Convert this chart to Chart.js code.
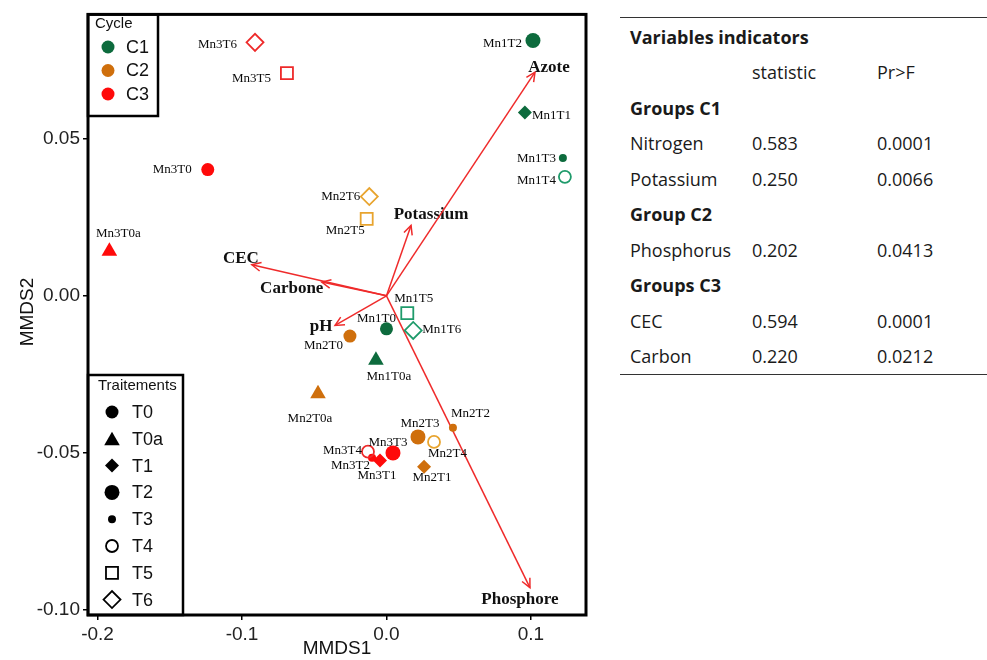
<!DOCTYPE html>
<html><head><meta charset="utf-8">
<script src="https://cdn.jsdelivr.net/npm/chart.js@4.4.1/dist/chart.umd.min.js"></script>
<style>
html,body{margin:0;padding:0;background:#fff;}
body{width:987px;height:660px;overflow:hidden;position:relative;}
#wrap{position:absolute;left:0;top:0;width:600px;height:660px;}
#tbl{position:absolute;left:620px;top:17px;width:367px;border-collapse:collapse;
 font-family:"Open Sans",sans-serif;font-size:18px;color:#1a1a1a;
 border-top:1.5px solid #333;border-bottom:1.5px solid #333;}
#tbl td{height:35.5px;padding:0;white-space:nowrap;vertical-align:middle;}
#tbl tr:first-child td{padding-top:1px;}
#tbl td.c0{padding-left:10px;width:122px;}
#tbl td.c1{width:125px;}
#tbl td.b{font-weight:bold;}
</style>
</head><body>
<div id="wrap"><canvas id="c" width="600" height="660"></canvas></div>
<table id="tbl"></table>
<script>
// ---------------- DATA ----------------
const cycleNames = ["C1", "C2", "C3"];
const treatmentNames = ["T0", "T0a", "T1", "T2", "T3", "T4", "T5", "T6"];
const xTickValues = [-0.2, -0.1, 0.0, 0.1];
const xTickLabels = ["-0.2", "-0.1", "0.0", "0.1"];
const yTickValues = [-0.10, -0.05, 0.00, 0.05];
const yTickLabels = ["-0.10", "-0.05", "0.00", "0.05"];

const pointNames = ["Mn1T0","Mn1T0a","Mn1T1","Mn1T2","Mn1T3","Mn1T4","Mn1T5","Mn1T6",
                    "Mn2T0","Mn2T0a","Mn2T1","Mn2T2","Mn2T3","Mn2T4","Mn2T5","Mn2T6",
                    "Mn3T0","Mn3T0a","Mn3T1","Mn3T2","Mn3T3","Mn3T4","Mn3T5","Mn3T6"];
const pointCycle = ["C1","C1","C1","C1","C1","C1","C1","C1",
                    "C2","C2","C2","C2","C2","C2","C2","C2",
                    "C3","C3","C3","C3","C3","C3","C3","C3"];
// marker drawn for each point (as seen in the figure)
const pointMarker = ["T0","T0a","T1","T2","T3","T4","T5","T6",
                     "T0","T0a","T1","T3","T2","T4","T5","T6",
                     "T0","T0a","T1","T3","T2","T4","T5","T6"];
const mmds1 = [0.0000,-0.0073, 0.0958, 0.1014, 0.1221, 0.1235, 0.0144, 0.0185,
              -0.0253,-0.0474, 0.0260, 0.0460, 0.0218, 0.0329,-0.0137,-0.0119,
              -0.1237,-0.1918,-0.0045,-0.0100, 0.0045,-0.0128,-0.0689,-0.0910];
const mmds2 = [-0.0105,-0.0205, 0.0584, 0.0813, 0.0439, 0.0379,-0.0055,-0.0110,
               -0.0128,-0.0312,-0.0544,-0.0420,-0.0449,-0.0465, 0.0245, 0.0316,
                0.0402, 0.0142,-0.0524,-0.0515,-0.0500,-0.0496, 0.0709, 0.0807];

const vectorNames = ["Azote","Potassium","CEC","Carbone","pH","Phosphore"];
const vectorX = [0.1028, 0.0170,-0.0932,-0.0448,-0.0356, 0.0993];
const vectorY = [0.0712, 0.0224, 0.0099, 0.0044,-0.0094,-0.0929];

const tableTitle = "Variables indicators";
const tableHeader = ["", "statistic", "Pr>F"];
const tableGroups = ["Groups C1", "Group C2", "Groups C3"];
const tableVariables = [["Nitrogen","Potassium"],["Phosphorus"],["CEC","Carbon"]];
const tableStatistic = [["0.583","0.250"],["0.202"],["0.594","0.220"]];
const tablePvalue = [["0.0001","0.0066"],["0.0413"],["0.0001","0.0212"]];

// ---------------- STYLES ----------------
const FILL = {C1:"#0d6b3d", C2:"#cf6f0c", C3:"#ff0a0a"};
const OPEN = {C1:"#1f9b6b", C2:"#e8a42e", C3:"#ee2a2a"};
const MARK = {
  T0:{style:"circle",r:6.5,fill:true},
  T0a:{style:"triangle",r:9,fill:true},
  T1:{style:"rectRot",r:7,fill:true},
  T2:{style:"circle",r:7.5,fill:true},
  T3:{style:"circle",r:4,fill:true},
  T4:{style:"circle",r:6,fill:false},
  T5:{style:"rect",r:8.5,fill:false},
  T6:{style:"rectRot",r:8.5,fill:false}
};
// label placement relative to marker: [align, dx, dy]
const LABEL_POS = {
  Mn1T0:["center",-10,-10], Mn1T0a:["center",13,16], Mn1T1:["left",7,3], Mn1T2:["right",-11,3],
  Mn1T3:["right",-7,1], Mn1T4:["right",-9,4], Mn1T5:["left",-13,-15], Mn1T6:["left",9,-1],
  Mn2T0:["right",-7,10], Mn2T0a:["center",-8,25], Mn2T1:["center",8,11], Mn2T2:["left",-2,-14],
  Mn2T3:["center",2,-13], Mn2T4:["left",-6,12], Mn2T5:["right",-2,12], Mn2T6:["right",-9,0],
  Mn3T0:["right",-16,0], Mn3T0a:["center",9,-18], Mn3T1:["center",-3,15], Mn3T2:["right",-2,8],
  Mn3T3:["center",-5,-10], Mn3T4:["right",-6,-1], Mn3T5:["right",-16,5], Mn3T6:["right",-18,2]
};
const VEC_LABEL = {Azote:[14,-5], Potassium:[20,-11], CEC:[-11,-6], Carbone:[-30,7], pH:[-14,1], Phosphore:[-10,12]};
const ARROW = "#ef2b2b";

// ---------------- TABLE ----------------
(function(){
  const t = document.getElementById("tbl");
  let h = `<tr><td class="c0 b" colspan="3">${tableTitle}</td></tr>`;
  h += `<tr><td class="c0">${tableHeader[0]}</td><td class="c1">${tableHeader[1]}</td><td>${tableHeader[2].replace(">","&gt;")}</td></tr>`;
  tableGroups.forEach((g,i)=>{
    h += `<tr><td class="c0 b" colspan="3">${g}</td></tr>`;
    tableVariables[i].forEach((v,j)=>{
      h += `<tr><td class="c0">${v}</td><td class="c1">${tableStatistic[i][j]}</td><td>${tablePvalue[i][j]}</td></tr>`;
    });
  });
  t.innerHTML = h;
})();

// ---------------- CHART ----------------
const datasets = [];
vectorNames.forEach((n,i)=>{
  datasets.push({label:n, isVector:true, data:[{x:0,y:0},{x:vectorX[i],y:vectorY[i]}],
    showLine:true, borderColor:ARROW, borderWidth:1.5, pointRadius:0, pointHoverRadius:0, order:2});
});
cycleNames.forEach(c=>{
  const data = [];
  pointNames.forEach((n,i)=>{ if(pointCycle[i]===c) data.push({x:mmds1[i], y:mmds2[i], name:n, mk:pointMarker[i]}); });
  datasets.push({label:c, data, order:1,
    pointStyle: ctx=>MARK[ctx.raw.mk].style,
    pointRadius: ctx=>MARK[ctx.raw.mk].r,
    pointHoverRadius: ctx=>MARK[ctx.raw.mk].r,
    backgroundColor: ctx=>MARK[ctx.raw.mk].fill ? FILL[c] : "rgba(255,255,255,0)",
    borderColor: ctx=>MARK[ctx.raw.mk].fill ? FILL[c] : OPEN[c],
    borderWidth: ctx=>MARK[ctx.raw.mk].fill ? 0 : 1.8
  });
});

function drawMarker(ctx, mk, x, y, color){
  const m = MARK[mk];
  ctx.save();
  ctx.fillStyle = m.fill ? color : "rgba(0,0,0,0)";
  ctx.strokeStyle = color; ctx.lineWidth = m.fill ? 0.001 : 1.8;
  Chart.helpers.drawPoint(ctx, {pointStyle:m.style, radius:m.r, rotation:0, borderWidth:m.fill?0:1.8}, x, y);
  ctx.restore();
}

const overlay = {
  id:"overlay",
  afterDatasetDraw(chart, args){
    const ds = chart.data.datasets[args.index];
    if(!ds.isVector) return;
    const meta = args.meta;
    const p0 = meta.data[0], p1 = meta.data[1];
    const ctx = chart.ctx;
    const ang = Math.atan2(p1.y-p0.y, p1.x-p0.x);
    const L = 10, a = 0.45;
    ctx.save();
    ctx.strokeStyle = ARROW; ctx.lineWidth = 1.5;
    ctx.beginPath();
    ctx.moveTo(p1.x - L*Math.cos(ang-a), p1.y - L*Math.sin(ang-a));
    ctx.lineTo(p1.x, p1.y);
    ctx.lineTo(p1.x - L*Math.cos(ang+a), p1.y - L*Math.sin(ang+a));
    ctx.stroke();
    ctx.fillStyle = "#111";
    ctx.font = "bold 17px 'Liberation Serif', serif";
    ctx.textAlign = "center"; ctx.textBaseline = "middle";
    const o = VEC_LABEL[ds.label];
    ctx.fillText(ds.label, p1.x + o[0], p1.y + o[1]);
    ctx.restore();
  },
  afterDatasetsDraw(chart){
    const ctx = chart.ctx;
    ctx.save();
    ctx.fillStyle = "#0a0a0a";
    ctx.font = "13px 'Liberation Serif', serif";
    ctx.textBaseline = "middle";
    chart.data.datasets.forEach((ds,di)=>{
      if(ds.isVector) return;
      const meta = chart.getDatasetMeta(di);
      meta.data.forEach((el,j)=>{
        const raw = ds.data[j];
        const lp = LABEL_POS[raw.name];
        ctx.textAlign = lp[0];
        ctx.fillText(raw.name, el.x + lp[1], el.y + lp[2]);
      });
    });
    ctx.restore();
  },
  afterDraw(chart){
    const ctx = chart.ctx, a = chart.chartArea;
    ctx.save();
    ctx.fillStyle = "#fff";
    ctx.fillRect(a.left, a.top, 158-a.left, 116-a.top);
    ctx.fillRect(a.left, 375, 183-a.left, a.bottom-375);
    ctx.strokeStyle = "#000"; ctx.lineWidth = 2.5;
    ctx.strokeRect(a.left, a.top, 158-a.left, 116-a.top);
    ctx.strokeRect(a.left, 375, 183-a.left, a.bottom-375);
    ctx.fillStyle = "#111"; ctx.textBaseline = "middle"; ctx.textAlign = "left";
    ctx.font = "15px 'Liberation Sans', Arial, sans-serif";
    ctx.fillText("Cycle", 95, 24);
    ctx.font = "18px 'Liberation Sans', Arial, sans-serif";
    cycleNames.forEach((c,i)=>{
      const y = 47 + i*23.5;
      ctx.beginPath(); ctx.fillStyle = FILL[c]; ctx.arc(108, y, 6.5, 0, Math.PI*2); ctx.fill();
      ctx.fillStyle = "#111"; ctx.fillText(c, 126, y+1);
    });
    ctx.font = "15px 'Liberation Sans', Arial, sans-serif";
    ctx.fillText("Traitements", 98, 386);
    ctx.font = "18px 'Liberation Sans', Arial, sans-serif";
    treatmentNames.forEach((t,i)=>{
      const y = 412 + i*26.8;
      drawMarker(ctx, t, 112, t==="T0a" ? y+2 : y, "#000");
      ctx.fillStyle = "#111"; ctx.fillText(t, 132, y+1);
    });
    ctx.strokeStyle = "#000"; ctx.lineWidth = 3;
    ctx.strokeRect(a.left, a.top, a.right-a.left, a.bottom-a.top);
    ctx.fillStyle = "#111";
    ctx.font = "19px 'Liberation Sans', Arial, sans-serif";
    ctx.textAlign = "center"; ctx.textBaseline = "middle";
    ctx.fillText("MMDS1", (a.left+a.right)/2, 649);
    ctx.translate(28, 312); ctx.rotate(-Math.PI/2);
    ctx.fillText("MMDS2", 0, 0);
    ctx.restore();
  }
};

const tickFont = {family:"'Liberation Sans', Arial, sans-serif", size:19};
new Chart(document.getElementById("c"), {
  type:"scatter",
  data:{datasets},
  plugins:[overlay],
  options:{
    responsive:false, animation:false, devicePixelRatio:1,
    layout:{padding:{left:0, right:14, top:12, bottom:0}},
    plugins:{legend:{display:false}, tooltip:{enabled:false}},
    events:[],
    scales:{
      x:{type:"linear", min:-0.2066, max:0.1381,
        afterBuildTicks:s=>{ s.ticks = xTickValues.map(v=>({value:v})); },
        ticks:{callback:(v,i)=>xTickLabels[i], font:tickFont, color:"#222", padding:3, maxRotation:0, autoSkip:false},
        grid:{drawOnChartArea:false, drawTicks:true, tickLength:5, color:"#000", lineWidth:1.5},
        border:{display:false},
        afterFit:s=>{ s.height = 45; }
      },
      y:{type:"linear", min:-0.1016, max:0.0896,
        afterBuildTicks:s=>{ s.ticks = yTickValues.map(v=>({value:v})); },
        ticks:{callback:(v,i)=>yTickLabels[i], font:tickFont, color:"#222", padding:3, autoSkip:false},
        grid:{drawOnChartArea:false, drawTicks:true, tickLength:5, color:"#000", lineWidth:1.5},
        border:{display:false},
        afterFit:s=>{ s.width = 88; }
      }
    }
  }
});
</script>
</body></html>
